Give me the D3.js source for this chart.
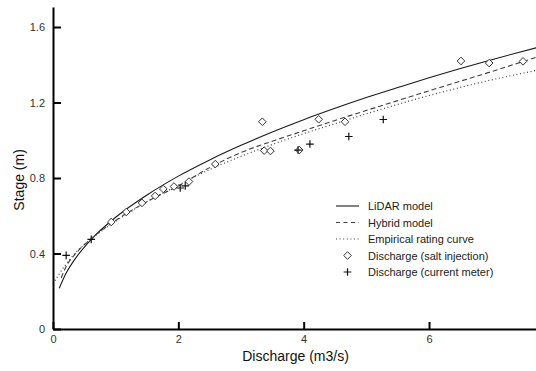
<!DOCTYPE html>
<html>
<head>
<meta charset="utf-8">
<script src="https://cdn.jsdelivr.net/npm/d3@7"></script>
<style>
  body { margin: 0; background: #fff; }
  svg { display: block; font-family: "Liberation Sans", Arial, Helvetica, sans-serif; }
</style>
</head>
<body>
<svg id="chart" width="536" height="371"></svg>
<script>
// data
const lidarX = [0.1, 0.2, 0.35, 0.61, 1, 1.5, 2, 2.5, 3, 3.5, 4, 4.5, 5, 5.5, 6, 6.5, 7, 7.71];
const lidarY = [0.216, 0.29, 0.37, 0.475, 0.592, 0.71, 0.81, 0.896, 0.973, 1.044, 1.109, 1.169, 1.226, 1.279, 1.331, 1.38, 1.427, 1.49];

const hybridX = [0.13, 0.2, 0.35, 0.61, 1, 1.5, 2, 2.5, 3, 3.5, 4, 4.5, 5, 5.5, 6, 6.5, 7, 7.71];
const hybridY = [0.27, 0.325, 0.395, 0.478, 0.575, 0.675, 0.758, 0.855, 0.935, 0.995, 1.05, 1.105, 1.158, 1.21, 1.262, 1.313, 1.364, 1.44];

const empiricalX = [0, 0.2, 0.35, 0.61, 1, 1.5, 2, 2.5, 3, 3.5, 4, 4.5, 5, 5.5, 6, 6.5, 7, 7.71];
const empiricalY = [0.24, 0.34, 0.4, 0.478, 0.57, 0.675, 0.762, 0.845, 0.915, 0.978, 1.035, 1.088, 1.14, 1.19, 1.237, 1.28, 1.32, 1.37];

const saltQ = [0.93, 1.17, 1.42, 1.63, 1.76, 1.93, 2.17, 2.59, 3.34, 3.37, 3.47, 3.93, 4.24, 4.66, 6.51, 6.96, 7.5];
const saltH = [0.567, 0.62, 0.668, 0.705, 0.742, 0.755, 0.781, 0.874, 1.098, 0.945, 0.943, 0.948, 1.111, 1.098, 1.42, 1.409, 1.418];

const meterQ = [0.21, 0.61, 2.03, 2.11, 3.91, 4.1, 4.72, 5.27];
const meterH = [0.39, 0.475, 0.747, 0.758, 0.948, 0.98, 1.02, 1.11];

const xTicks = [0, 2, 4, 6];
const yTicks = [0, 0.4, 0.8, 1.2, 1.6];

const margin = {top: 7, right: 0, bottom: 42, left: 53};
const width = 536, height = 371;

const svg = d3.select('#chart');

const xScale = d3.scaleLinear()
  .domain([0, 7.707])
  .range([margin.left, width - margin.right]);

const yScale = d3.scaleLinear()
  .domain([0, 1.706])
  .range([height - margin.bottom, margin.top]);

// curves
const line = d3.line()
  .x(d => xScale(d[0]))
  .y(d => yScale(d[1]))
  .curve(d3.curveMonotoneX);

const curves = [
  {name: 'LiDAR model', x: lidarX, y: lidarY, dash: null, color: '#1a1a1a', w: 1.1},
  {name: 'Hybrid model', x: hybridX, y: hybridY, dash: '5,3', color: '#404040', w: 1.1},
  {name: 'Empirical rating curve', x: empiricalX, y: empiricalY, dash: '1,2.6', color: '#404040', w: 1.2}
];

const curveGroup = svg.append('g').attr('id', 'curves');
curves.forEach(c => {
  curveGroup.append('path')
    .datum(c.x.map((v, i) => [v, c.y[i]]))
    .attr('d', line)
    .attr('fill', 'none')
    .attr('stroke', c.color)
    .attr('stroke-width', c.w)
    .attr('stroke-dasharray', c.dash);
});

// markers
const diamond = 'M0,-3.8L3.8,0L0,3.8L-3.8,0Z';
const plus = 'M-3.8,0H3.8M0,-3.8V3.8';

svg.append('g')
  .attr('id', 'salt')
  .selectAll('path')
  .data(saltQ.map((q, i) => [q, saltH[i]]))
  .join('path')
  .attr('d', diamond)
  .attr('transform', d => `translate(${xScale(d[0])},${yScale(d[1])})`)
  .attr('fill', '#fff')
  .attr('stroke', '#333')
  .attr('stroke-width', 1);

svg.append('g')
  .attr('id', 'meter')
  .selectAll('path')
  .data(meterQ.map((q, i) => [q, meterH[i]]))
  .join('path')
  .attr('d', plus)
  .attr('transform', d => `translate(${xScale(d[0])},${yScale(d[1])})`)
  .attr('fill', 'none')
  .attr('stroke', '#111')
  .attr('stroke-width', 1.2);

// axes
const xAxis = svg.append('g')
  .attr('transform', `translate(0,${height - margin.bottom})`)
  .call(d3.axisBottom(xScale).tickValues(xTicks).tickFormat(d3.format('d'))
    .tickSizeInner(-7).tickSizeOuter(0).tickPadding(6));

const yAxis = svg.append('g')
  .attr('transform', `translate(${margin.left},0)`)
  .call(d3.axisLeft(yScale).tickValues(yTicks).tickFormat(d => d === 0 ? '0' : d3.format('.1f')(d))
    .tickSizeInner(-8).tickSizeOuter(0).tickPadding(8));

[xAxis, yAxis].forEach(a => {
  a.select('.domain').attr('stroke', '#000').attr('stroke-width', 2);
  a.selectAll('.tick line').attr('stroke', '#000').attr('stroke-width', 2);
  a.selectAll('.tick text').attr('fill', '#333').attr('font-size', 11)
    .attr('font-family', '"Liberation Sans", Arial, sans-serif');
});

// axis titles
svg.append('text')
  .attr('x', xScale(3.87))
  .attr('y', 361)
  .attr('text-anchor', 'middle')
  .attr('font-size', 14)
  .attr('fill', '#111')
  .text('Discharge (m3/s)');

svg.append('text')
  .attr('transform', `translate(24,${yScale(0.79)}) rotate(-90)`)
  .attr('text-anchor', 'middle')
  .attr('font-size', 14)
  .attr('fill', '#111')
  .text('Stage (m)');

// legend
const legend = svg.append('g').attr('transform', 'translate(336,206)');
const rowH = 16.5;
curves.forEach((c, i) => {
  legend.append('line')
    .attr('x1', 0).attr('x2', 23)
    .attr('y1', i * rowH).attr('y2', i * rowH)
    .attr('stroke', c.color)
    .attr('stroke-width', c.w)
    .attr('stroke-dasharray', c.dash === '5,3' ? '4,3.5' : c.dash);
  legend.append('text')
    .attr('x', 32).attr('y', i * rowH + 4)
    .attr('font-size', 11).attr('fill', '#222')
    .text(c.name);
});
legend.append('path')
  .attr('d', diamond)
  .attr('transform', `translate(11.5,${3 * rowH})`)
  .attr('fill', '#fff').attr('stroke', '#333');
legend.append('text')
  .attr('x', 32).attr('y', 3 * rowH + 4)
  .attr('font-size', 11).attr('fill', '#222')
  .text('Discharge (salt injection)');
legend.append('path')
  .attr('d', plus)
  .attr('transform', `translate(11.5,${4 * rowH})`)
  .attr('stroke', '#111').attr('stroke-width', 1.2);
legend.append('text')
  .attr('x', 32).attr('y', 4 * rowH + 4)
  .attr('font-size', 11).attr('fill', '#222')
  .text('Discharge (current meter)');
</script>
</body>
</html>
